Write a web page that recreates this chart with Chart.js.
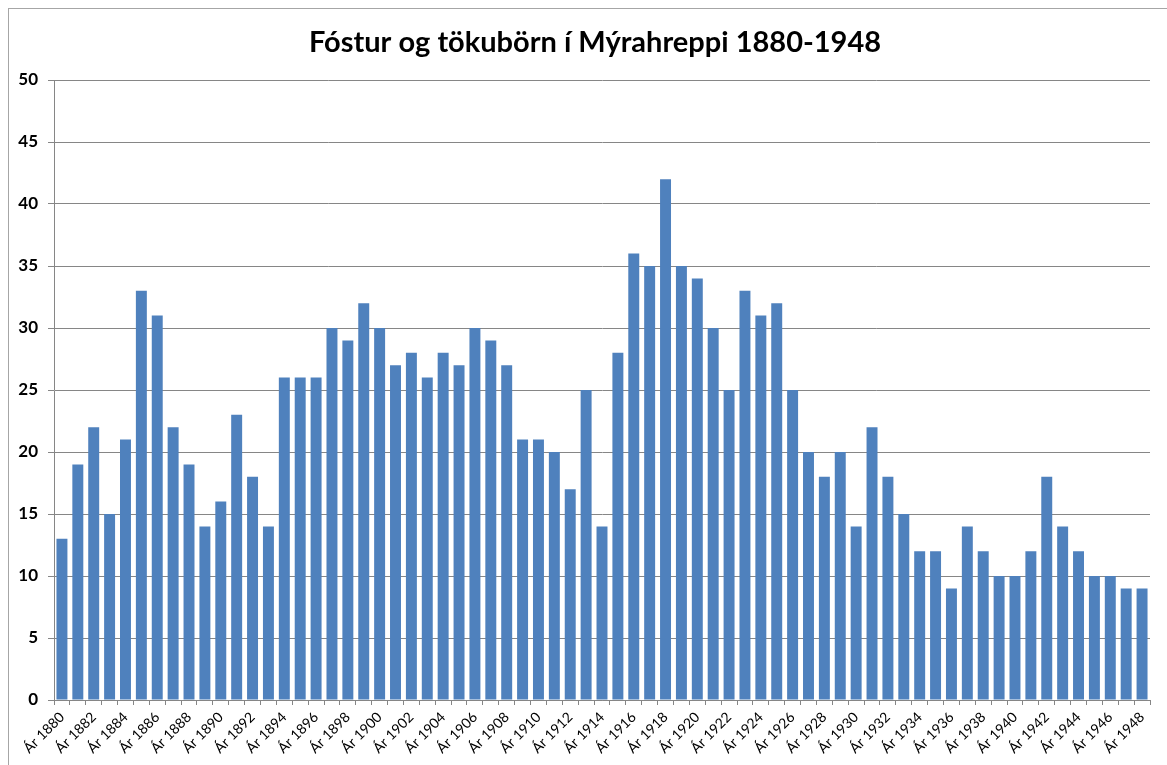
<!DOCTYPE html>
<html>
<head>
<meta charset="utf-8">
<title>Fóstur og tökubörn í Mýrahreppi 1880-1948</title>
<script src="https://cdn.jsdelivr.net/npm/chart.js@4.4.0/dist/chart.umd.min.js"></script>
<style>
    html, body { margin: 0; padding: 0; background: #fff; overflow: hidden; }
    #wrap { position: relative; width: 1167px; height: 765px; }
    #frame {
        position: absolute; left: 8px; top: 8px; width: 1200px; height: 800px;
        border-top: 1px solid #a6a6a6; border-left: 1px solid #a6a6a6;
        pointer-events: none;
    }
</style>
</head>
<body>
<div id="wrap">
    <div id="frame"></div>
    <canvas id="chart" width="1167" height="765"></canvas>
</div>
<script>
// Data
const years = [];
for (let y = 1880; y <= 1948; y++) years.push('Ár ' + y);

const children = [
    13, 19, 22, 15, 21, 33, 31, 22, 19, 14,   // 1880-1889
    16, 23, 18, 14, 26, 26, 26, 30, 29, 32,   // 1890-1899
    30, 27, 28, 26, 28, 27, 30, 29, 27, 21,   // 1900-1909
    21, 20, 17, 25, 14, 28, 36, 35, 42, 35,   // 1910-1919
    34, 30, 25, 33, 31, 32, 25, 20, 18, 20,   // 1920-1929
    14, 22, 18, 15, 12, 12, 9, 14, 12, 10,    // 1930-1939
    10, 12, 18, 14, 12, 10, 10, 9, 9          // 1940-1948
];

const yTicks = [0, 5, 10, 15, 20, 25, 30, 35, 40, 45, 50];

const chartTitle = 'Fóstur og tökubörn í Mýrahreppi 1880-1948';
const gridColor = '#868686';
const barColor = '#4f81bd';

// Excel centres the title a bit right of the canvas middle
const titleShift = {
    id: 'titleShift',
    afterLayout(chart) {
        const t = chart.titleBlock;
        if (t) {
            t.left += 20;
            t.right += 20;
        }
    }
};

const ctx = document.getElementById('chart').getContext('2d');

new Chart(ctx, {
    type: 'bar',
    data: {
        labels: years,
        datasets: [{
            data: children,
            backgroundColor: barColor,
            borderWidth: 0,
            barPercentage: 0.69,
            categoryPercentage: 1.0
        }]
    },
    options: {
        responsive: false,
        animation: false,
        layout: { padding: { left: 0, right: 17, top: 0, bottom: 0 } },
        plugins: {
            legend: { display: false },
            tooltip: { enabled: false },
            title: {
                display: true,
                text: chartTitle,
                color: '#000',
                font: { family: 'Lato', size: 29, weight: 'bold', lineHeight: 1.2 },
                padding: { top: 25, bottom: 20.2 }
            }
        },
        scales: {
            x: {
                offset: true,
                grid: {
                    display: true,
                    offset: true,
                    drawOnChartArea: false,
                    drawTicks: true,
                    tickLength: 5,
                    color: gridColor
                },
                border: { display: true, color: gridColor, width: 1 },
                ticks: {
                    autoSkip: false,
                    maxRotation: 45,
                    minRotation: 45,
                    padding: 4,
                    color: '#000',
                    font: { family: 'Lato', size: 14 },
                    callback: function (val, i) {
                        return i % 2 === 0 ? this.getLabelForValue(val) : '';
                    }
                },
                afterFit: function (scale) { scale.height = 65; }
            },
            y: {
                min: 0,
                max: 50,
                afterBuildTicks: function (scale) {
                    scale.ticks = yTicks.map(v => ({ value: v }));
                },
                grid: {
                    color: gridColor,
                    lineWidth: 1,
                    drawTicks: true,
                    tickLength: 6
                },
                border: { display: true, color: gridColor, width: 1 },
                ticks: {
                    color: '#000',
                    padding: 10,
                    font: { family: 'Lato', size: 17, weight: 'bold' }
                },
                afterFit: function (scale) { scale.width = 54; }
            }
        }
    },
    plugins: [titleShift]
});
</script>
</body>
</html>
